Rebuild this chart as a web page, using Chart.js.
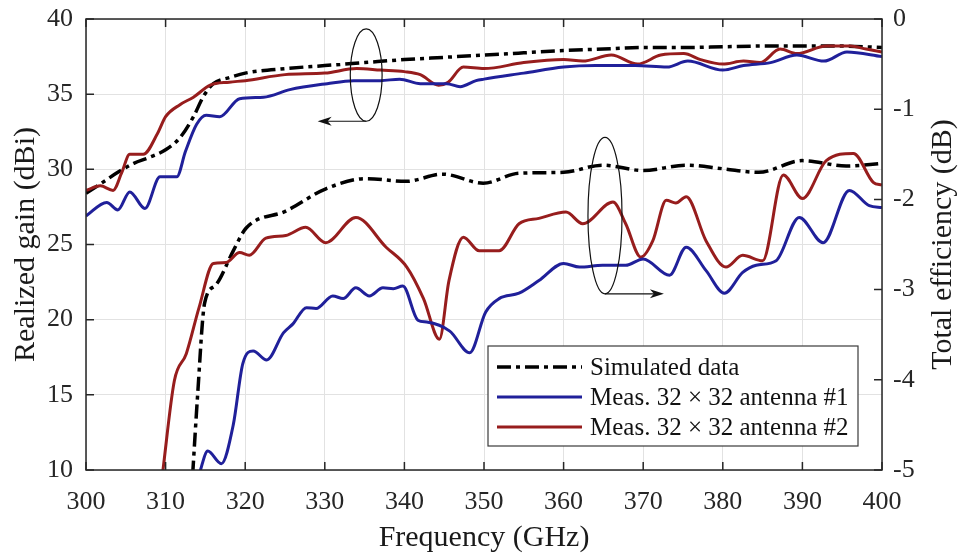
<!DOCTYPE html>
<html>
<head>
<meta charset="utf-8">
<script src="https://cdn.jsdelivr.net/npm/chart.js@4.4.1/dist/chart.umd.min.js"></script>
<style>
    html, body { margin: 0; padding: 0; background: #fff; }
    #wrap { width: 960px; height: 556px; }
</style>
</head>
<body>
<div id="wrap"><canvas id="gain-chart"></canvas></div>
<script>
// x ticks (GHz) and axis limits
var freqTicks = [300, 310, 320, 330, 340, 350, 360, 370, 380, 390, 400];
var gainTicks = [10, 15, 20, 25, 30, 35, 40];
var effTicks = [-5, -4, -3, -2, -1, 0];

// realized gain (dBi), left axis
var simGainFreq = [300, 302, 304, 306, 308, 310, 311.8, 313.5, 314.8, 316, 318, 320, 325, 330, 335, 340, 345, 350, 355, 360, 365, 370, 375, 380, 385, 390, 395, 400];
var simGain = [28.4, 29.1, 29.8, 30.4, 30.8, 31.3, 32.1, 33.5, 34.9, 35.7, 36.1, 36.4, 36.7, 36.9, 37.1, 37.3, 37.45, 37.6, 37.75, 37.9, 38.0, 38.1, 38.1, 38.15, 38.2, 38.2, 38.2, 38.1];

var ant1GainFreq = [300, 302.6, 304, 305.5, 307.4, 309.3, 311.4, 312.5, 313.9, 315.1, 316.8, 319.3, 322.3, 325.6, 330.3, 333.6, 337, 339.4, 342, 345.3, 347, 349, 350, 355, 360, 364, 369, 373, 375.6, 380, 382.6, 386, 389.3, 392.7, 395.6, 400];
var ant1Gain = [26.9, 27.8, 27.3, 28.5, 27.4, 29.5, 29.5, 31.2, 33.0, 33.6, 33.5, 34.7, 34.8, 35.3, 35.7, 35.9, 35.9, 36.0, 35.7, 35.7, 35.5, 35.9, 36.0, 36.4, 36.8, 36.9, 36.9, 36.8, 37.2, 36.6, 36.9, 37.1, 37.6, 37.2, 37.8, 37.5];

var ant2GainFreq = [300, 301.8, 303.4, 304.5, 305.5, 307.2, 309, 310, 311.8, 313.5, 315.6, 318, 320, 325, 330, 334, 337, 340, 342, 344.3, 345.5, 347.4, 350, 355, 360, 362.4, 366, 369.3, 372.2, 375.1, 377.2, 380, 382.6, 384.7, 387.2, 389.3, 393, 396, 398, 400];
var ant2Gain = [28.6, 28.9, 28.6, 29.8, 31.0, 31.0, 32.4, 33.5, 34.3, 34.8, 35.6, 35.8, 35.9, 36.3, 36.4, 36.7, 36.6, 36.5, 36.3, 35.6, 35.8, 36.8, 36.7, 37.1, 37.3, 37.2, 37.6, 37.0, 37.6, 37.7, 37.3, 37.0, 37.2, 37.1, 38.0, 37.7, 38.2, 38.2, 38.0, 37.8];

// total efficiency (dB), right axis
var simEffFreq = [313.4, 314.0, 314.9, 316.3, 318.5, 320.1, 325.1, 330.2, 335.2, 340.2, 344.8, 349.9, 354.4, 360, 364.9, 370, 375.4, 380, 384.5, 390, 395.5, 400];
var simEff = [-5.05, -4.2, -3.15, -2.95, -2.57, -2.32, -2.13, -1.88, -1.77, -1.80, -1.72, -1.82, -1.71, -1.70, -1.62, -1.68, -1.62, -1.66, -1.70, -1.57, -1.63, -1.60];

var ant1EffFreq = [314.2, 315.3, 317.0, 318.5, 319.7, 321, 322.7, 324.8, 326, 327.7, 328.9, 331, 332.3, 333.9, 335.6, 337.3, 338.6, 339.8, 341.7, 342.8, 345.7, 348.2, 350.2, 351.9, 354.4, 356.9, 360, 362, 364.9, 367.8, 370, 373.3, 375.4, 377.9, 380.2, 382.5, 384.2, 386.7, 389.6, 392.6, 395.9, 398.4, 400];
var ant1Eff = [-5.05, -4.79, -4.93, -4.5, -3.82, -3.68, -3.78, -3.48, -3.38, -3.2, -3.21, -3.07, -3.10, -2.98, -3.07, -2.98, -2.99, -2.96, -3.34, -3.36, -3.46, -3.70, -3.25, -3.10, -3.04, -2.90, -2.71, -2.75, -2.73, -2.73, -2.66, -2.84, -2.53, -2.79, -3.04, -2.81, -2.73, -2.68, -2.20, -2.48, -1.90, -2.07, -2.09];

var ant2EffFreq = [309.6, 311.1, 312.6, 314.2, 316, 317.6, 319.3, 320.5, 322.6, 325.1, 327.6, 330.1, 333.9, 337.7, 340.3, 342.4, 344.4, 345.6, 347.4, 349.4, 351.9, 354.4, 356.9, 360.3, 362.4, 366.2, 367.8, 369.7, 371.2, 372.9, 374.1, 375.4, 377.9, 380.4, 382.5, 385, 387.6, 390, 393, 396.4, 398.9, 400];
var ant2Eff = [-5.05, -4.01, -3.71, -3.2, -2.71, -2.70, -2.59, -2.62, -2.43, -2.40, -2.31, -2.48, -2.20, -2.53, -2.75, -3.10, -3.55, -2.90, -2.42, -2.57, -2.57, -2.27, -2.21, -2.14, -2.27, -2.03, -2.27, -2.64, -2.46, -2.01, -2.04, -1.97, -2.46, -2.75, -2.62, -2.68, -1.73, -1.99, -1.57, -1.49, -1.81, -1.84];

var legendLabels = ['Simulated data', 'Meas. 32 \u00d7 32 antenna #1', 'Meas. 32 \u00d7 32 antenna #2'];

var colors = { sim: '#000000', ant1: '#20209a', ant2: '#971d1d', axis: '#262626', grid: '#e2e2e2' };
var fontFamily = '"Liberation Serif", "Times New Roman", serif';
var simDash = [14, 5, 4, 5];

function toPoints(xs, ys) {
    var pts = [];
    for (var i = 0; i < xs.length; i++) pts.push({ x: xs[i], y: ys[i] });
    return pts;
}

function line(label, xs, ys, color, axis, dash) {
    return {
        label: label,
        data: toPoints(xs, ys),
        yAxisID: axis,
        borderColor: color,
        backgroundColor: color,
        borderWidth: dash ? 3.5 : 3,
        borderDash: dash || [],
        pointRadius: 0,
        cubicInterpolationMode: 'monotone',
        fill: false
    };
}

// fixed axis box sizes so the plot area lands where the original has it
function fixBox(size, horizontal) {
    return function (s) {
        if (horizontal) {
            s.height = size;
            s.paddingLeft = 0; s.paddingRight = 0;
        } else {
            s.width = size;
            s.paddingTop = 0; s.paddingBottom = 0;
        }
    };
}

// ellipses with arrows, plus legend, frame and inward ticks
var overlayPlugin = {
    id: 'overlay',
    afterDraw: function (chart) {
        var ctx = chart.ctx, a = chart.chartArea;
        var sx = chart.scales.x, sy = chart.scales.y, sy2 = chart.scales.y2;
        ctx.save();

        ctx.strokeStyle = colors.axis;
        ctx.lineWidth = 1.5;
        ctx.strokeRect(a.left, a.top, a.right - a.left, a.bottom - a.top);
        ctx.beginPath();
        freqTicks.forEach(function (v) {
            var px = sx.getPixelForValue(v);
            ctx.moveTo(px, a.bottom); ctx.lineTo(px, a.bottom - 8);
            ctx.moveTo(px, a.top); ctx.lineTo(px, a.top + 8);
        });
        gainTicks.forEach(function (v) {
            var py = sy.getPixelForValue(v);
            ctx.moveTo(a.left, py); ctx.lineTo(a.left + 8, py);
        });
        effTicks.forEach(function (v) {
            var py = sy2.getPixelForValue(v);
            ctx.moveTo(a.right, py); ctx.lineTo(a.right - 8, py);
        });
        ctx.stroke();

        // annotations
        function ellipseArrow(scaleY, fc, vc, rf, rv, fEnd) {
            var cx = sx.getPixelForValue(fc), cy = scaleY.getPixelForValue(vc);
            var rx = Math.abs(sx.getPixelForValue(fc + rf) - cx);
            var ry = Math.abs(scaleY.getPixelForValue(vc + rv) - cy);
            ctx.strokeStyle = '#111';
            ctx.fillStyle = '#111';
            ctx.lineWidth = 1.2;
            ctx.beginPath();
            ctx.ellipse(cx, cy, rx, ry, 0, 0, Math.PI * 2);
            ctx.stroke();
            var yb = cy + ry, xe = sx.getPixelForValue(fEnd);
            var dir = xe > cx ? 1 : -1;
            ctx.beginPath();
            ctx.moveTo(cx, yb); ctx.lineTo(xe - dir * 6, yb);
            ctx.stroke();
            ctx.beginPath();
            ctx.moveTo(xe, yb);
            ctx.lineTo(xe - dir * 14, yb - 4.5);
            ctx.lineTo(xe - dir * 10, yb);
            ctx.lineTo(xe - dir * 14, yb + 4.5);
            ctx.closePath();
            ctx.fill();
        }
        ellipseArrow(sy, 335.2, 36.27, 2.0, -3.07, 329.1);
        ellipseArrow(sy2, 365.2, -2.18, 2.14, -0.867, 372.6);

        // legend
        var lx = a.left + 402, ly = a.top + 327, lw = 370, lh = 100;
        ctx.fillStyle = '#fff';
        ctx.fillRect(lx, ly, lw, lh);
        ctx.strokeStyle = '#3a3a3a';
        ctx.lineWidth = 1.2;
        ctx.strokeRect(lx, ly, lw, lh);
        var rows = [
            { c: colors.sim, d: simDash, w: 3.5 },
            { c: colors.ant1, d: [], w: 3 },
            { c: colors.ant2, d: [], w: 3 }
        ];
        ctx.font = '25px ' + fontFamily;
        ctx.textAlign = 'left';
        ctx.textBaseline = 'middle';
        rows.forEach(function (r, i) {
            var yy = ly + 21 + i * 30;
            ctx.strokeStyle = r.c;
            ctx.lineWidth = r.w;
            ctx.setLineDash(r.d);
            ctx.beginPath();
            ctx.moveTo(lx + 9, yy); ctx.lineTo(lx + 94, yy);
            ctx.stroke();
            ctx.setLineDash([]);
            ctx.fillStyle = '#111';
            ctx.fillText(legendLabels[i], lx + 102, yy + 1);
        });

        // right axis title, reads bottom to top like the left one
        ctx.translate(a.right + 61, (a.top + a.bottom) / 2);
        ctx.rotate(-Math.PI / 2);
        ctx.font = '30px ' + fontFamily;
        ctx.fillStyle = '#1a1a1a';
        ctx.textAlign = 'center';
        ctx.fillText('Total efficiency (dB)', 0, 0);
        ctx.restore();
    }
};

var ctx = document.getElementById('gain-chart').getContext('2d');
var chart = new Chart(ctx, {
    type: 'line',
    data: {
        datasets: [
            line('ant1 gain', ant1GainFreq, ant1Gain, colors.ant1, 'y'),
            line('ant2 gain', ant2GainFreq, ant2Gain, colors.ant2, 'y'),
            line('sim gain', simGainFreq, simGain, colors.sim, 'y', simDash),
            line('ant1 eff', ant1EffFreq, ant1Eff, colors.ant1, 'y2'),
            line('ant2 eff', ant2EffFreq, ant2Eff, colors.ant2, 'y2'),
            line('sim eff', simEffFreq, simEff, colors.sim, 'y2', simDash)
        ]
    },
    options: {
        responsive: true, maintainAspectRatio: false,
        animation: false,
        layout: { padding: { top: 19, left: 0, right: 0, bottom: 0 } },
        plugins: {
            legend: { display: false },
            tooltip: { enabled: false }
        },
        scales: {
            x: {
                type: 'linear', min: 300, max: 400,
                afterFit: fixBox(86, true),
                border: { display: false },
                grid: { color: colors.grid, lineWidth: 1, drawTicks: false },
                ticks: { stepSize: 10, padding: 17, color: colors.axis, font: { family: fontFamily, size: 26 } },
                title: { display: true, text: 'Frequency (GHz)', color: '#1a1a1a', padding: { top: 0, bottom: 0 }, font: { family: fontFamily, size: 30 } }
            },
            y: {
                position: 'left', min: 10, max: 40,
                afterFit: fixBox(86, false),
                border: { display: false },
                grid: { color: colors.grid, lineWidth: 1, drawTicks: false },
                ticks: { stepSize: 5, padding: 13, color: colors.axis, font: { family: fontFamily, size: 26 } },
                title: { display: true, text: 'Realized gain (dBi)', color: '#1a1a1a', padding: { top: 8, bottom: 0 }, font: { family: fontFamily, size: 30 } }
            },
            y2: {
                position: 'right', min: -5, max: 0,
                afterFit: fixBox(78, false),
                border: { display: false },
                grid: { display: false, drawTicks: false },
                ticks: { stepSize: 1, padding: 11, color: colors.axis, font: { family: fontFamily, size: 26 } }
            }
        }
    },
    plugins: [overlayPlugin]
});
</script>
</body>
</html>
